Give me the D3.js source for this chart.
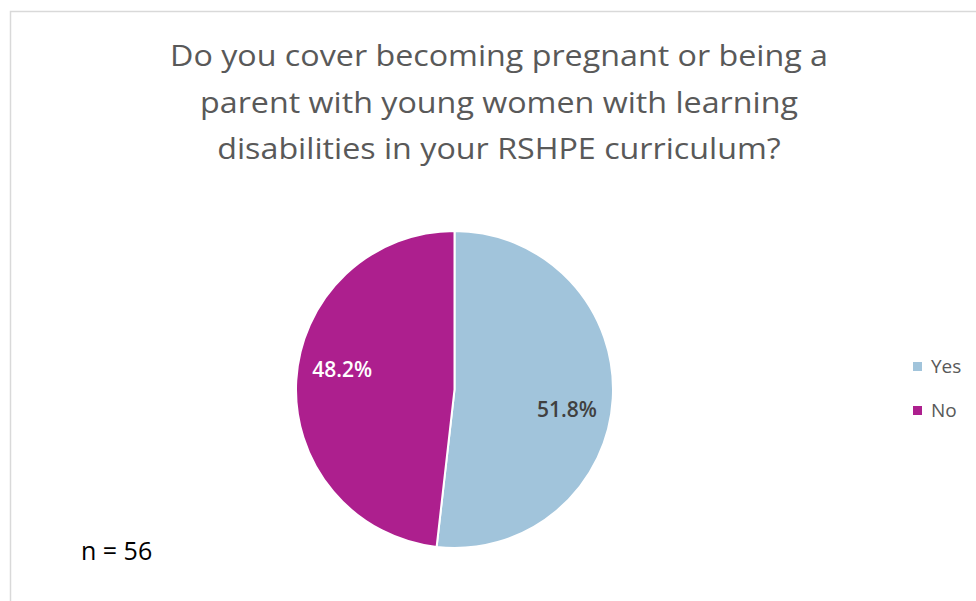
<!DOCTYPE html>
<html>
<head>
<meta charset="utf-8">
<script src="https://cdn.jsdelivr.net/npm/d3@7"></script>
<style>
  html, body { margin: 0; padding: 0; background: #fff; }
  svg { display: block; }
</style>
</head>
<body>
<svg id="chart" width="976" height="601"></svg>
<script>
// Survey answers
const categories = ["Yes", "No"];
const values = [51.8, 48.2];
const colors = ["#a1c4db", "#ad1f8e"];
const labelColors = ["#404040", "#ffffff"];
const titleLines = [
  "Do you cover becoming pregnant or being a",
  "parent with young women with learning",
  "disabilities in your RSHPE curriculum?"
];
const note = "n = 56";

const svg = d3.select("#chart");
const W = 976, H = 601;
const font = "Open Sans, 'Noto Sans', sans-serif";

// chart frame
svg.append("rect")
  .attr("x", 10.5).attr("y", 11.5)
  .attr("width", W + 10).attr("height", H + 10)
  .attr("fill", "#fff").attr("stroke", "#d9d9d9").attr("stroke-width", 1.5);

// title, stretched slightly so the first line spans the title width
const titleText = svg.append("g").selectAll("text")
  .data(titleLines)
  .join("text")
  .attr("x", 499)
  .attr("y", (d, i) => 66 + i * 46.5)
  .attr("text-anchor", "middle")
  .attr("font-family", font)
  .attr("font-size", 30)
  .attr("fill", "#595959")
  .text(d => d);
const base = titleText.nodes()[0].getComputedTextLength();
const k = 658 / base;
titleText.each(function () {
  const len = this.getComputedTextLength();
  d3.select(this).attr("textLength", len * k).attr("lengthAdjust", "spacingAndGlyphs");
});

// pie
const cx = 454.5, cy = 389.5, r = 158.5;
const pie = d3.pie().sort(null).value(d => d)(values);
const arc = d3.arc().innerRadius(0).outerRadius(r);
const g = svg.append("g").attr("transform", `translate(${cx},${cy})`);

g.selectAll("path")
  .data(pie)
  .join("path")
  .attr("d", arc)
  .attr("fill", (d, i) => colors[i])
  .attr("stroke", "#fff")
  .attr("stroke-width", 2);

// slice labels, placed a little clockwise of each slice's mid-angle
const labelR = r * 0.72;
const labelTurn = 0.12;
g.selectAll("text.lbl")
  .data(pie)
  .join("text")
  .attr("class", "lbl")
  .attr("transform", d => {
    const a = (d.startAngle + d.endAngle) / 2 + labelTurn;
    return `translate(${labelR * Math.sin(a)},${-labelR * Math.cos(a)})`;
  })
  .attr("text-anchor", "middle")
  .attr("dy", "0.36em")
  .attr("font-family", font)
  .attr("font-size", 21)
  .attr("font-weight", 600)
  .attr("fill", (d, i) => labelColors[i])
  .text(d => d.data.toFixed(1) + "%");

// legend
const legend = svg.append("g").selectAll("g")
  .data(categories)
  .join("g")
  .attr("transform", (d, i) => `translate(913,${366 + i * 44})`);
legend.append("rect")
  .attr("x", 0).attr("y", -4)
  .attr("width", 9).attr("height", 9)
  .attr("fill", (d, i) => colors[i]);
legend.append("text")
  .attr("x", 18).attr("dy", "0.35em")
  .attr("font-family", font)
  .attr("font-size", 19)
  .attr("fill", "#595959")
  .text(d => d);

// sample size
svg.append("text")
  .attr("x", 81).attr("y", 560)
  .attr("font-family", font)
  .attr("font-size", 25)
  .attr("fill", "#000")
  .text(note);
</script>
</body>
</html>
